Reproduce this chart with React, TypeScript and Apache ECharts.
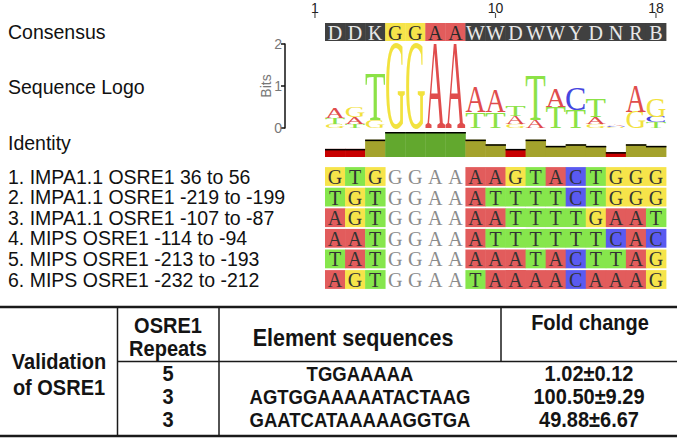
import React, { useEffect, useRef } from "react";
import * as echarts from "echarts";

// ---------------- data ----------------
const consensus = ["D", "D", "K", "G", "G", "A", "A", "W", "W", "D", "W", "W", "Y", "D", "N", "R", "B"];
const rulerMarks = [1, 10, 18];
const firstAlignmentPosition = 2; // displayed column 1 = alignment position 2

const sampleNames = [
  "1. IMPA1.1 OSRE1 36 to 56",
  "2. IMPA1.1 OSRE1 -219 to -199",
  "3. IMPA1.1 OSRE1 -107 to -87",
  "4. MIPS OSRE1 -114 to -94",
  "5. MIPS OSRE1 -213 to -193",
  "6. MIPS OSRE1 -232 to -212",
];
const sequences = [
  "GTGGGAAAAGTACTGGG",
  "TGTGGAAATTTTCTGGG",
  "AGTGGAAAATTTTGAAT",
  "AATGGAAATTTTTTCAC",
  "TATGGAAAAATACTTAG",
  "AGTGGAATAAAACAAAG",
];

// identity (%) per column
const identity = [27, 27, 67, 100, 100, 100, 100, 67, 47, 27, 67, 40, 47, 40, 13, 47, 40];

// sequence logo: per column, letters bottom -> top with height in bits
const logoStacks: [string, number][][] = [
  [["G", 0.1], ["T", 0.14], ["A", 0.24]],
  [["T", 0.1], ["A", 0.16], ["G", 0.24]],
  [["G", 0.19], ["T", 1.1]],
  [["G", 2.0]],
  [["G", 2.0]],
  [["A", 2.0]],
  [["A", 2.0]],
  [["T", 0.38], ["A", 0.59]],
  [["T", 0.38], ["A", 0.54]],
  [["G", 0.09], ["A", 0.19], ["T", 0.24]],
  [["A", 0.19], ["T", 1.08]],
  [["T", 0.49], ["A", 0.42]],
  [["T", 0.42], ["C", 0.54]],
  [["G", 0.1], ["A", 0.16], ["T", 0.42]],
  [["G", 0.03], ["C", 0.03], ["A", 0.04]],
  [["G", 0.38], ["A", 0.64]],
  [["T", 0.14], ["C", 0.12], ["G", 0.42]],
];
const bitsTicks = [0, 1, 2];

// table
const repeatCounts = [5, 3, 3];
const elementSequences = ["TGGAAAAA", "AGTGGAAAAATACTAAG", "GAATCATAAAAAGGTGA"];
const foldMean = [1.02, 100.5, 49.88];
const foldSD = [0.12, 9.29, 6.67];

// ---------------- styles ----------------
const cellColor: Record<string, string> = { A: "#e25c5c", T: "#86e64c", G: "#f6e44a", C: "#5a5af0" };
const logoColor: Record<string, string> = { A: "#e04c4c", T: "#8ce246", G: "#f2e23e", C: "#4646e0" };
const inkWidth: Record<string, number> = { A: 0.7, T: 0.58, G: 0.68, C: 0.61 };
const CAP = 0.662;
const SERIF = '"Liberation Serif", "Times New Roman", serif';
const SANS = '"Liberation Sans", Arial, sans-serif';

function identityColor(v: number) {
  if (v >= 100) return "#62a82e";
  if (v >= 30) return "#a4a22c";
  return "#c80000";
}

function txt(style: any) {
  return {
    ...style,
    textAlign: style.align,
    textVerticalAlign: style.verticalAlign,
  };
}

function buildOption() {
  const nCol = consensus.length;
  const logoItems: { col: number; letter: string; base: number; top: number }[] = [];
  logoStacks.forEach((stack, i) => {
    let acc = 0;
    stack.forEach(([letter, h]) => {
      logoItems.push({ col: i + 1, letter, base: acc, top: acc + h });
      acc += h;
    });
  });
  const alignItems: number[][] = [];
  sequences.forEach((s, r) => {
    s.split("").forEach((_, c) => alignItems.push([c + 1, r]));
  });

  const xAxes = [0, 1, 2, 3].map((g) => ({ type: "value", gridIndex: g, min: 0.5, max: nCol + 0.5, show: false }));

  const graphicEls: any[] = [];
  const heading = (t: string, y: number) =>
    graphicEls.push({
      type: "text",
      x: 8,
      y,
      style: txt({ text: t, font: `19.5px ${SANS}`, fill: "#111", align: "left", verticalAlign: "middle" }),
    });
  heading("Consensus", 32);
  heading("Sequence Logo", 87);
  heading("Identity", 143);

  // table
  const line = (x1: number, y1: number, x2: number, y2: number, w: number) =>
    graphicEls.push({ type: "line", shape: { x1, y1, x2, y2 }, style: { stroke: "#1a1a1a", lineWidth: w } });
  line(0, 307, 677, 307, 2.5);
  line(0, 436, 677, 436, 2.5);
  line(117.5, 361.5, 677, 361.5, 1.5);
  line(117.5, 307, 117.5, 436, 1.5);
  line(219, 307, 219, 436, 1.5);
  line(501, 307, 501, 361.5, 1.5);
  const ttext = (t: string, x: number, y: number, size = 20) =>
    graphicEls.push({
      type: "text",
      x,
      y,
      scaleY: 1.14,
      style: txt({ text: t, x: 0, y: 0, font: `bold ${size}px ${SANS}`, fill: "#141414", align: "center", verticalAlign: "middle" }),
    });
  ttext("Validation", 59, 362);
  ttext("of OSRE1", 59, 388);
  ttext("OSRE1", 168, 326);
  ttext("Repeats", 168, 349);
  ttext("Element sequences", 353, 337, 21.5);
  ttext("Fold change", 590, 323);
  const rowY = [374, 397, 420];
  repeatCounts.forEach((v, i) => ttext(String(v), 168, rowY[i]));
  elementSequences.forEach((v, i) => ttext(v, 360, rowY[i], 18.5));
  foldMean.forEach((v, i) => ttext(`${v.toFixed(2)}±${foldSD[i].toFixed(2)}`, 589, rowY[i]));

  return {
    animation: false,
    backgroundColor: "#ffffff",
    grid: [
      { left: 325, width: 341, top: 23, height: 18 },
      { left: 325, width: 341, top: 44, height: 84 },
      { left: 325, width: 341, top: 132, height: 25 },
      { left: 325, width: 341, top: 166.2, height: 123.6 },
    ],
    xAxis: xAxes,
    yAxis: [
      { type: "value", gridIndex: 0, min: 0, max: 1, show: false },
      {
        type: "value",
        gridIndex: 1,
        min: bitsTicks[0],
        max: bitsTicks[bitsTicks.length - 1],
        interval: 1,
        offset: 40,
        axisLine: { show: true, lineStyle: { color: "#111", width: 1.5 } },
        axisTick: { show: true, length: 4, lineStyle: { color: "#111", width: 1.5 } },
        axisLabel: {
          color: "#777",
          fontSize: 14,
          margin: 3,
          fontFamily: SANS,
          interval: 0,
          showMinLabel: true,
          showMaxLabel: true,
          hideOverlap: false,
        },
        splitLine: { show: false },
        name: "Bits",
        nameLocation: "middle",
        nameRotate: 90,
        nameGap: 12,
        nameMoveOverlap: false,
        nameTextStyle: { color: "#777", fontSize: 14, fontFamily: SANS },
      },
      { type: "value", gridIndex: 2, min: -8, max: 100, show: false },
      {
        type: "category",
        gridIndex: 3,
        inverse: true,
        data: sampleNames,
        axisLine: { show: false },
        axisTick: { show: false },
        axisLabel: {
          align: "left",
          margin: 317,
          fontSize: 19.5,
          color: "#111",
          fontFamily: SANS,
          interval: 0,
          hideOverlap: false,
          padding: [3, 0, 0, 0],
        },
      },
    ],
    series: [
      // ruler
      {
        type: "custom",
        xAxisIndex: 0,
        yAxisIndex: 0,
        clip: false,
        silent: true,
        data: rulerMarks.map((m) => [m - firstAlignmentPosition + 1, 1]),
        renderItem: (params: any, api: any) => {
          const p = api.coord([api.value(0), 1]);
          return {
            type: "group",
            children: [
              {
                type: "text",
                style: txt({
                  text: String(rulerMarks[params.dataIndex]),
                  x: p[0],
                  y: p[1] - 15,
                  font: `14px ${SANS}`,
                  fill: "#222",
                  align: "center",
                  verticalAlign: "middle",
                }),
              },
              { type: "line", shape: { x1: p[0], y1: p[1] - 10, x2: p[0], y2: p[1] - 5 }, style: { stroke: "#555", lineWidth: 1.2 } },
            ],
          };
        },
      },
      // consensus
      {
        type: "custom",
        xAxisIndex: 0,
        yAxisIndex: 0,
        clip: false,
        silent: true,
        data: consensus.map((_, i) => [i + 1, 0]),
        renderItem: (params: any, api: any) => {
          const x = api.value(0);
          const letter = consensus[params.dataIndex];
          const p0 = api.coord([x - 0.5, 1]);
          const p1 = api.coord([x + 0.5, 0]);
          const hl = cellColor[letter];
          return {
            type: "group",
            children: [
              {
                type: "rect",
                shape: { x: p0[0], y: p0[1], width: p1[0] - p0[0] + 0.4, height: p1[1] - p0[1] },
                style: { fill: hl || "#404040" },
              },
              {
                type: "text",
                style: txt({
                  text: letter,
                  x: (p0[0] + p1[0]) / 2,
                  y: (p0[1] + p1[1]) / 2 + 0.5,
                  font: `20px ${SERIF}`,
                  lineHeight: 17,
                  fill: hl ? "#2a2a2a" : "#e8e8e8",
                  align: "center",
                  verticalAlign: "middle",
                }),
              },
            ],
          };
        },
      },
      // logo
      {
        type: "custom",
        xAxisIndex: 1,
        yAxisIndex: 1,
        clip: false,
        silent: true,
        data: logoItems.map((d) => [d.col, d.base, d.top]),
        renderItem: (params: any, api: any) => {
          const d = logoItems[params.dataIndex];
          const pTop = api.coord([d.col - 0.5, api.value(2)]);
          const pBot = api.coord([d.col + 0.5, api.value(1)]);
          const h = pBot[1] - pTop[1];
          if (h < 0.3) return null;
          const w = pBot[0] - pTop[0];
          const F = 40;
          return {
            type: "text",
            x: (pTop[0] + pBot[0]) / 2,
            y: pTop[1] + h * 0.4902,
            scaleX: (w * 0.97) / (inkWidth[d.letter] * F),
            scaleY: h / (CAP * F),
            style: txt({
              text: d.letter,
              x: 0,
              y: 0,
              font: `${F}px ${SERIF}`,
              fill: logoColor[d.letter],
              align: "center",
              verticalAlign: "middle",
            }),
          };
        },
      },
      // identity
      {
        type: "custom",
        xAxisIndex: 2,
        yAxisIndex: 2,
        clip: false,
        silent: true,
        data: identity.map((v, i) => [i + 1, v]),
        renderItem: (params: any, api: any) => {
          const x = api.value(0);
          const v = api.value(1);
          const p0 = api.coord([x - 0.5, v]);
          const p1 = api.coord([x + 0.5, -8]);
          return {
            type: "group",
            children: [
              {
                type: "rect",
                shape: { x: p0[0], y: p0[1], width: p1[0] - p0[0] + 0.4, height: p1[1] - p0[1] },
                style: { fill: identityColor(v) },
              },
              {
                type: "line",
                shape: { x1: p0[0], y1: p0[1] + 0.75, x2: p1[0] + 0.4, y2: p0[1] + 0.75 },
                style: { stroke: "#000", lineWidth: 1.5 },
              },
            ],
          };
        },
      },
      // alignment
      {
        type: "custom",
        xAxisIndex: 3,
        yAxisIndex: 3,
        clip: false,
        silent: true,
        data: alignItems,
        renderItem: (params: any, api: any) => {
          const c = api.value(0);
          const r = alignItems[params.dataIndex][1];
          const letter = sequences[r][c - 1];
          const ctr = api.coord([c, r]);
          const size = api.size([1, 1]);
          const cw = size[0];
          const ch = size[1] - 1.8;
          const colored = letter !== consensus[c - 1];
          const children: any[] = [];
          if (colored) {
            children.push({
              type: "rect",
              shape: { x: ctr[0] - cw / 2, y: ctr[1] - ch / 2, width: cw + 0.4, height: ch },
              style: { fill: cellColor[letter] },
            });
          }
          children.push({
            type: "text",
            style: txt({
              text: letter,
              x: ctr[0],
              y: ctr[1] + 0.5,
              font: `20px ${SERIF}`,
              lineHeight: 18,
              fill: colored ? "#333" : "#8c8c8c",
              align: "center",
              verticalAlign: "middle",
            }),
          });
          return { type: "group", children };
        },
      },
    ],
    graphic: { elements: graphicEls },
  };
}

export default function App() {
  const ref = useRef<HTMLDivElement>(null);
  useEffect(() => {
    const chart = echarts.init(ref.current!, null, { renderer: "svg", width: 677, height: 439 });
    chart.setOption(buildOption() as any);
    return () => chart.dispose();
  }, []);
  return (
    <div
      ref={ref}
      style={{ position: "fixed", left: 0, top: 0, width: 677, height: 439, background: "#fff" }}
    />
  );
}
